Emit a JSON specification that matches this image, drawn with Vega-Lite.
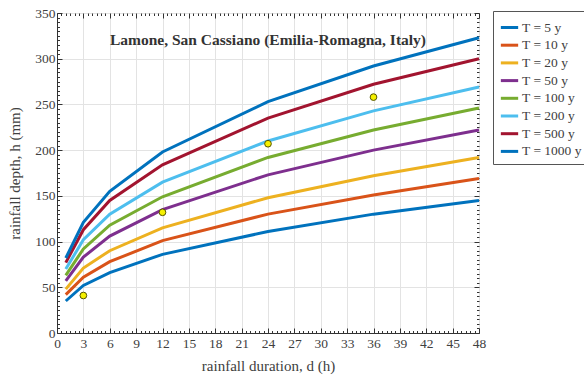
{
  "$schema": "https://vega.github.io/schema/vega-lite/v6.json",
  "autosize": "none",
  "padding": {"left": 57, "top": 13, "right": 105, "bottom": 52},
  "width": 422,
  "height": 320,
  "background": "white",
  "config": {
    "font": "Liberation Serif",
    "view": {"stroke": "#333333", "strokeWidth": 1},
    "axis": {"labelFont": "Liberation Serif", "titleFont": "Liberation Serif", "labelColor": "#404040", "titleColor": "#404040", "labelFontSize": 13.5, "titleFontSize": 15, "titleFontWeight": "normal", "domainColor": "#333333", "tickColor": "#333333", "gridColor": "#e3e3e3", "gridOpacity": 1, "labelOverlap": false, "labelBound": false, "labelFlush": false}
  },
  "resolve": {"axis": {"x": "independent", "y": "independent"}},
  "datasets": {
    "curves": [
      {"T": "T = 5 y", "d": 1, "h": 35}, {"T": "T = 5 y", "d": 3, "h": 52}, {"T": "T = 5 y", "d": 6, "h": 66}, {"T": "T = 5 y", "d": 12, "h": 86}, {"T": "T = 5 y", "d": 24, "h": 111}, {"T": "T = 5 y", "d": 36, "h": 130}, {"T": "T = 5 y", "d": 48, "h": 145},
      {"T": "T = 10 y", "d": 1, "h": 42}, {"T": "T = 10 y", "d": 3, "h": 61}, {"T": "T = 10 y", "d": 6, "h": 78}, {"T": "T = 10 y", "d": 12, "h": 101}, {"T": "T = 10 y", "d": 24, "h": 130}, {"T": "T = 10 y", "d": 36, "h": 151}, {"T": "T = 10 y", "d": 48, "h": 169},
      {"T": "T = 20 y", "d": 1, "h": 48}, {"T": "T = 20 y", "d": 3, "h": 71}, {"T": "T = 20 y", "d": 6, "h": 90}, {"T": "T = 20 y", "d": 12, "h": 115}, {"T": "T = 20 y", "d": 24, "h": 148}, {"T": "T = 20 y", "d": 36, "h": 172}, {"T": "T = 20 y", "d": 48, "h": 192},
      {"T": "T = 50 y", "d": 1, "h": 57}, {"T": "T = 50 y", "d": 3, "h": 83}, {"T": "T = 50 y", "d": 6, "h": 106}, {"T": "T = 50 y", "d": 12, "h": 135}, {"T": "T = 50 y", "d": 24, "h": 173}, {"T": "T = 50 y", "d": 36, "h": 200}, {"T": "T = 50 y", "d": 48, "h": 222},
      {"T": "T = 100 y", "d": 1, "h": 63}, {"T": "T = 100 y", "d": 3, "h": 92}, {"T": "T = 100 y", "d": 6, "h": 118}, {"T": "T = 100 y", "d": 12, "h": 149}, {"T": "T = 100 y", "d": 24, "h": 192}, {"T": "T = 100 y", "d": 36, "h": 222}, {"T": "T = 100 y", "d": 48, "h": 246},
      {"T": "T = 200 y", "d": 1, "h": 70}, {"T": "T = 200 y", "d": 3, "h": 102}, {"T": "T = 200 y", "d": 6, "h": 130}, {"T": "T = 200 y", "d": 12, "h": 165}, {"T": "T = 200 y", "d": 24, "h": 210}, {"T": "T = 200 y", "d": 36, "h": 243}, {"T": "T = 200 y", "d": 48, "h": 269},
      {"T": "T = 500 y", "d": 1, "h": 77}, {"T": "T = 500 y", "d": 3, "h": 113}, {"T": "T = 500 y", "d": 6, "h": 145}, {"T": "T = 500 y", "d": 12, "h": 184}, {"T": "T = 500 y", "d": 24, "h": 235}, {"T": "T = 500 y", "d": 36, "h": 272}, {"T": "T = 500 y", "d": 48, "h": 300},
      {"T": "T = 1000 y", "d": 1, "h": 82}, {"T": "T = 1000 y", "d": 3, "h": 121}, {"T": "T = 1000 y", "d": 6, "h": 155}, {"T": "T = 1000 y", "d": 12, "h": 198}, {"T": "T = 1000 y", "d": 24, "h": 253}, {"T": "T = 1000 y", "d": 36, "h": 292}, {"T": "T = 1000 y", "d": 48, "h": 323}
    ],
    "obs": [
      {"d": 3, "h": 41}, {"d": 12, "h": 132}, {"d": 24, "h": 207}, {"d": 36, "h": 258}
    ],
    "label": [
      {"d": 24, "h": 321, "text": "Lamone, San Cassiano (Emilia-Romagna, Italy)"}
    ]
  },
  "layer": [
    {
      "data": {"name": "curves"},
      "mark": {"type": "line", "strokeWidth": 3},
      "encoding": {
        "x": {"field": "d", "type": "quantitative", "scale": {"domain": [0, 48], "nice": false}, "axis": {"orient": "bottom", "title": "rainfall duration, d (h)", "values": [0,3,6,9,12,15,18,21,24,27,30,33,36,39,42,45,48], "tickSize": -5, "labelPadding": 8, "titlePadding": 9}},
        "y": {"field": "h", "type": "quantitative", "scale": {"domain": [0, 350], "nice": false}, "axis": {"orient": "left", "title": "rainfall depth, h (mm)", "values": [0,50,100,150,200,250,300,350], "tickSize": -5, "labelPadding": 7, "titlePadding": 12}},
        "color": {"field": "T", "type": "nominal", "sort": ["T = 5 y","T = 10 y","T = 20 y","T = 50 y","T = 100 y","T = 200 y","T = 500 y","T = 1000 y"],
          "scale": {"domain": ["T = 5 y","T = 10 y","T = 20 y","T = 50 y","T = 100 y","T = 200 y","T = 500 y","T = 1000 y"], "range": ["#0072BD","#D95319","#EDB120","#7E2F8E","#77AC30","#4DBEEE","#A2142F","#0072BD"]},
          "legend": {"title": null, "orient": "none", "legendX": 436, "legendY": -2, "symbolType": "stroke", "symbolStrokeWidth": 3, "symbolSize": 300, "labelFont": "Liberation Serif", "labelFontSize": 13.5, "labelColor": "#404040", "rowPadding": 0.7, "strokeColor": "#555555", "padding": 6, "fillColor": "white", "labelOffset": 2}
        },
        "detail": {"field": "T"}
      }
    },
    {
      "data": {"name": "obs"},
      "mark": {"type": "point", "filled": true, "fill": "#f5f000", "stroke": "#555500", "strokeWidth": 1, "size": 45, "opacity": 1},
      "encoding": {
        "x": {"field": "d", "type": "quantitative", "axis": {"orient": "top", "title": null, "labels": false, "grid": false, "domain": false, "values": [0,3,6,9,12,15,18,21,24,27,30,33,36,39,42,45,48], "tickSize": -5}},
        "y": {"field": "h", "type": "quantitative", "axis": {"orient": "right", "title": null, "labels": false, "grid": false, "domain": false, "values": [0,50,100,150,200,250,300,350], "tickSize": -5}}
      }
    },
    {
      "data": {"name": "obs"},
      "mark": {"type": "point", "opacity": 0},
      "encoding": {
        "x": {"field": "d", "type": "quantitative", "axis": {"orient": "bottom", "title": null, "labels": false, "grid": false, "domain": false, "values": [0.5,1,1.5,2,2.5,3.5,4,4.5,5,5.5,6.5,7,7.5,8,8.5,9.5,10,10.5,11,11.5,12.5,13,13.5,14,14.5,15.5,16,16.5,17,17.5,18.5,19,19.5,20,20.5,21.5,22,22.5,23,23.5,24.5,25,25.5,26,26.5,27.5,28,28.5,29,29.5,30.5,31,31.5,32,32.5,33.5,34,34.5,35,35.5,36.5,37,37.5,38,38.5,39.5,40,40.5,41,41.5,42.5,43,43.5,44,44.5,45.5,46,46.5,47,47.5], "tickSize": -2.5}},
        "y": {"field": "h", "type": "quantitative", "axis": {"orient": "left", "title": null, "labels": false, "grid": false, "domain": false, "values": [5,10,15,20,25,30,35,40,45,55,60,65,70,75,80,85,90,95,105,110,115,120,125,130,135,140,145,155,160,165,170,175,180,185,190,195,205,210,215,220,225,230,235,240,245,255,260,265,270,275,280,285,290,295,305,310,315,320,325,330,335,340,345], "tickSize": -2.5}}
      }
    },
    {
      "data": {"name": "obs"},
      "mark": {"type": "point", "opacity": 0},
      "encoding": {
        "x": {"field": "d", "type": "quantitative", "axis": {"orient": "top", "title": null, "labels": false, "grid": false, "domain": false, "values": [0.5,1,1.5,2,2.5,3.5,4,4.5,5,5.5,6.5,7,7.5,8,8.5,9.5,10,10.5,11,11.5,12.5,13,13.5,14,14.5,15.5,16,16.5,17,17.5,18.5,19,19.5,20,20.5,21.5,22,22.5,23,23.5,24.5,25,25.5,26,26.5,27.5,28,28.5,29,29.5,30.5,31,31.5,32,32.5,33.5,34,34.5,35,35.5,36.5,37,37.5,38,38.5,39.5,40,40.5,41,41.5,42.5,43,43.5,44,44.5,45.5,46,46.5,47,47.5], "tickSize": -2.5}},
        "y": {"field": "h", "type": "quantitative", "axis": {"orient": "right", "title": null, "labels": false, "grid": false, "domain": false, "values": [5,10,15,20,25,30,35,40,45,55,60,65,70,75,80,85,90,95,105,110,115,120,125,130,135,140,145,155,160,165,170,175,180,185,190,195,205,210,215,220,225,230,235,240,245,255,260,265,270,275,280,285,290,295,305,310,315,320,325,330,335,340,345], "tickSize": -2.5}}
      }
    },
    {
      "data": {"name": "label"},
      "mark": {"type": "text", "font": "Liberation Serif", "fontWeight": "bold", "fontSize": 15.5, "color": "#333333"},
      "encoding": {
        "x": {"field": "d", "type": "quantitative", "axis": null},
        "y": {"field": "h", "type": "quantitative", "axis": null},
        "text": {"field": "text"}
      }
    }
  ]
}
